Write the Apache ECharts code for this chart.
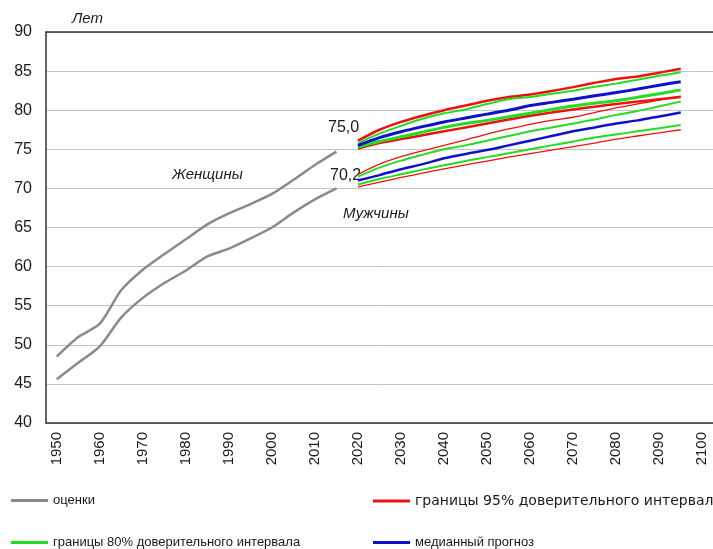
<!DOCTYPE html>
<html>
<head>
<meta charset="utf-8">
<script src="https://cdn.jsdelivr.net/npm/echarts@6/dist/echarts.min.js"></script>
<style>
html,body{margin:0;padding:0;background:#fff;}
#chart{width:713px;height:549px;}
</style>
</head>
<body>
<div id="chart"></div>
<script>
// Categories: 5-year steps
const categories = ['1950','1955','1960','1965','1970','1975','1980','1985','1990','1995','2000','2005','2010','2015','2020','2025','2030','2035','2040','2045','2050','2055','2060','2065','2070','2075','2080','2085','2090','2095','2100'];

// Estimates 1950–2015
const womenEst = [48.5, 51.0, 52.7, 57.0, 59.6, 61.6, 63.5, 65.4, 66.8, 68.0, 69.3, 71.1, 73.0, 74.7];
const menEst   = [45.6, 47.7, 49.8, 53.5, 56.0, 57.9, 59.5, 61.3, 62.3, 63.6, 65.0, 66.9, 68.6, 70.0];

// Projections 2020–2095
const womenHi95 = [76.1, 77.5, 78.5, 79.3, 80.0, 80.6, 81.2, 81.7, 82.0, 82.45, 82.95, 83.5, 84.0, 84.3, 84.8, 85.3];
const womenHi80 = [75.8, 77.0, 78.0, 78.9, 79.6, 80.1, 80.8, 81.4, 81.7, 82.1, 82.5, 83.0, 83.4, 83.9, 84.4, 84.85];
const womenMed  = [75.5, 76.5, 77.25, 77.9, 78.5, 79.0, 79.5, 80.0, 80.6, 81.0, 81.4, 81.85, 82.25, 82.7, 83.2, 83.65];
const womenLo80 = [75.3, 76.0, 76.6, 77.2, 77.8, 78.3, 78.7, 79.15, 79.6, 80.1, 80.55, 80.9, 81.2, 81.65, 82.1, 82.6];
const womenLo95 = [75.1, 75.8, 76.3, 76.8, 77.3, 77.8, 78.3, 78.8, 79.3, 79.7, 80.1, 80.45, 80.8, 81.1, 81.4, 81.7];
const menHi95 = [71.8, 73.1, 74.05, 74.8, 75.5, 76.2, 76.95, 77.6, 78.2, 78.7, 79.1, 79.7, 80.3, 80.8, 81.3, 81.8];
const menHi80 = [71.5, 72.65, 73.55, 74.3, 75.0, 75.5, 76.1, 76.7, 77.3, 77.8, 78.3, 78.8, 79.4, 79.9, 80.5, 81.1];
const menMed  = [71.0, 71.7, 72.45, 73.1, 73.85, 74.4, 74.9, 75.5, 76.1, 76.7, 77.3, 77.8, 78.3, 78.7, 79.2, 79.7];
const menLo80 = [70.5, 71.2, 71.8, 72.4, 72.95, 73.5, 74.0, 74.5, 75.0, 75.5, 76.0, 76.5, 76.9, 77.3, 77.7, 78.1];
const menLo95 = [70.2, 70.8, 71.4, 71.95, 72.5, 73.0, 73.5, 74.0, 74.45, 74.9, 75.35, 75.8, 76.3, 76.7, 77.1, 77.5];

const NAME_EST = 'оценки';
const NAME_95 = 'границы 95% доверительного интервала';
const NAME_80 = 'границы 80% доверительного интервала';
const NAME_MED = 'медианный прогноз';

const GRAY = '#8a8a8a', RED = '#ee1111', GREEN = '#22dd22', BLUE = '#1010cc';
const FONT = '"Liberation Sans", Arial, sans-serif';

const nEst = womenEst.length;
function estData(arr){ return categories.map((c,i)=> i < arr.length ? arr[i] : null); }
function projData(arr){ return categories.map((c,i)=> (i >= nEst && i - nEst < arr.length) ? arr[i - nEst] : null); }

function line(name, data, color, width){
  return {
    name: name, type: 'line', data: data, showSymbol: false, symbol: 'none',
    smooth: 0.25, connectNulls: false, silent: true,
    lineStyle: {color: color, width: width}, itemStyle: {color: color}
  };
}

const series = [
  line(NAME_EST, estData(womenEst), GRAY, 2.5),
  line(NAME_EST, estData(menEst), GRAY, 2.5),
  line(NAME_95, projData(womenHi95), RED, 2.5),
  line(NAME_95, projData(womenLo95), RED, 2.5),
  line(NAME_95, projData(menHi95), RED, 1.3),
  line(NAME_95, projData(menLo95), RED, 1.3),
  line(NAME_80, projData(womenHi80), GREEN, 2),
  line(NAME_80, projData(womenLo80), GREEN, 3),
  line(NAME_80, projData(menHi80), GREEN, 2),
  line(NAME_80, projData(menLo80), GREEN, 2),
  line(NAME_MED, projData(womenMed), BLUE, 3),
  line(NAME_MED, projData(menMed), BLUE, 2.5)
];

function legend(name, left, top, font, size){
  return {
    data: [name], left: left, top: top, icon: 'rect', itemWidth: 37, itemHeight: 3,
    selectedMode: false, padding: 0,
    textStyle: {fontFamily: font || FONT, fontSize: size || 13, color: '#1a1a1a'}
  };
}

const chart = echarts.init(document.getElementById('chart'), null, {renderer: 'canvas'});
chart.setOption({
  animation: false,
  backgroundColor: '#ffffff',
  grid: {left: 46, top: 32, width: 670, height: 391, show: false},
  xAxis: [{
    type: 'category', data: categories, boundaryGap: true,
    axisLine: {show: true, lineStyle: {color: '#333', width: 1.5}},
    axisTick: {show: false},
    splitLine: {show: false},
    axisLabel: {interval: 1, rotate: 90, margin: 9, fontFamily: FONT, fontSize: 15, color: '#1a1a1a'}
  }, {
    type: 'category', data: categories, boundaryGap: true, position: 'top',
    axisLine: {show: true, lineStyle: {color: '#333', width: 1.5}},
    axisTick: {show: false}, axisLabel: {show: false}, splitLine: {show: false}
  }],
  yAxis: {
    type: 'value', min: 40, max: 90, interval: 5,
    axisLine: {show: true, lineStyle: {color: '#333', width: 1.5}},
    axisTick: {show: false},
    splitLine: {show: true, lineStyle: {color: '#c4c4c4', width: 1}},
    axisLabel: {margin: 14, fontFamily: FONT, fontSize: 16, color: '#1a1a1a'}
  },
  legend: [
    legend(NAME_EST, 11, 494),
    legend(NAME_95, 373, 494, '"DejaVu Sans", sans-serif', 14),
    legend(NAME_80, 11, 536),
    legend(NAME_MED, 373, 536)
  ],
  graphic: [
    {type: 'text', left: 72, top: 11, style: {text: 'Лет', font: 'italic 15px ' + FONT, fill: '#1a1a1a'}},
    {type: 'text', left: 172, top: 167, style: {text: 'Женщины', font: 'italic 15px ' + FONT, fill: '#1a1a1a'}},
    {type: 'text', left: 343, top: 206, style: {text: 'Мужчины', font: 'italic 15px ' + FONT, fill: '#1a1a1a'}},
    {type: 'text', left: 328, top: 120, style: {text: '75,0', font: '16px ' + FONT, fill: '#1a1a1a'}},
    {type: 'text', left: 330, top: 168, style: {text: '70,2', font: '16px ' + FONT, fill: '#1a1a1a'}}
  ],
  series: series
});
</script>
</body>
</html>
